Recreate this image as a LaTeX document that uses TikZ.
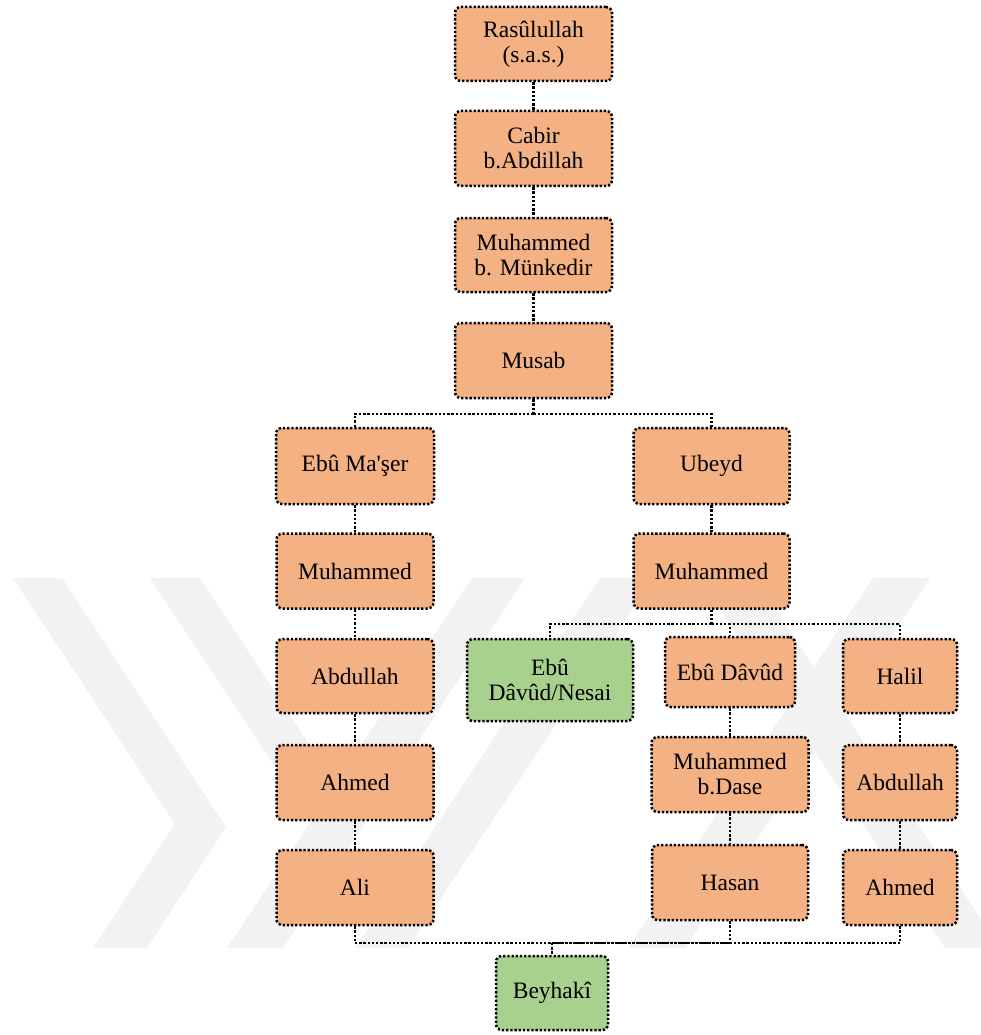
\documentclass[tikz,border=0pt]{standalone}
\usepackage{fontspec}
\setmainfont{Liberation Serif}[Ligatures=TeXOff]
\definecolor{boxor}{HTML}{F4B183}
\definecolor{boxgr}{HTML}{A9D18E}
\definecolor{wmark}{HTML}{F2F2F2}
\tikzset{
  dotline/.style={line width=2.5pt, dash pattern=on 2.3pt off 1.9pt},
  pbox/.style={draw=black, dotline, rounded corners=6pt, fill=boxor, inner sep=0pt,
    align=center, font=\fontsize{23.5}{25}\selectfont},
  gbox/.style={pbox, fill=boxgr},
  conn/.style={draw=black, dotline},
}
\begin{document}
\begin{tikzpicture}[x=1pt,y=-1pt]
\useasboundingbox (0,0) rectangle (981,1035);
% faint watermark
\begin{scope}
\clip (0,0) rectangle (981,1035);
\fill[wmark] (13,578) -- (62,578) -- (226,827) -- (147,948) -- (93,948) -- (175,824) -- cycle;
\fill[wmark] (150,578) -- (200,578) -- (363,826) -- (311,821) -- cycle;
\fill[wmark] (227,948) -- (283,948) -- (525,578) -- (472,578) -- cycle;
\fill[wmark] (355,948) -- (408,948) -- (653,578) -- (600,578) -- cycle;
\fill[wmark] (873,578) -- (930,578) -- (685,948) -- (628,948) -- cycle;
\fill[wmark] (700,578) -- (755,578) -- (1000,948) -- (945,948) -- cycle;
\end{scope}
% nodes
\node[pbox, minimum width=157pt, minimum height=74pt] (r1) at (533.5,44) {Rasûlullah\\(s.a.s.)};
\node[pbox, minimum width=157pt, minimum height=75pt] (r2) at (533.5,148.5) {Cabir\\b.Abdillah};
\node[pbox, minimum width=157pt, minimum height=74pt] (r3) at (533.5,255) {Muhammed\\b. Münkedir};
\node[pbox, minimum width=157pt, minimum height=75pt] (r4) at (533.5,360.5) {Musab};
\node[pbox, minimum width=158pt, minimum height=76pt] (e1) at (355,466) {Ebû Ma'şer};
\node[pbox, minimum width=156pt, minimum height=76pt] (u1) at (711.5,466) {Ubeyd};
\node[pbox, minimum width=157pt, minimum height=75pt] (m1) at (355,571) {Muhammed};
\node[pbox, minimum width=156pt, minimum height=75pt] (m2) at (711.5,571) {Muhammed};
\node[pbox, minimum width=157pt, minimum height=74pt] (a1) at (355,676) {Abdullah};
\node[gbox, minimum width=166pt, minimum height=82pt] (g1) at (550,680) {Ebû\\Dâvûd/Nesai};
\node[pbox, minimum width=130pt, minimum height=70pt] (d1) at (730,672) {Ebû Dâvûd};
\node[pbox, minimum width=114pt, minimum height=74pt] (h1) at (900,676) {Halil};
\node[pbox, minimum width=157pt, minimum height=75pt] (a2) at (355,782.5) {Ahmed};
\node[pbox, minimum width=157pt, minimum height=75pt] (mb) at (730,774.5) {Muhammed\\b.Dase};
\node[pbox, minimum width=114pt, minimum height=75pt] (a3) at (900,782.5) {Abdullah};
\node[pbox, minimum width=157pt, minimum height=75pt] (al) at (355,887.5) {Ali};
\node[pbox, minimum width=156pt, minimum height=75pt] (hs) at (730,882.5) {Hasan};
\node[pbox, minimum width=114pt, minimum height=75pt] (a4) at (900,887.5) {Ahmed};
\node[gbox, minimum width=112pt, minimum height=74pt] (b1) at (552,993) {Beyhakî};
% junction points
\coordinate (s1) at (533.5,414);
\coordinate (s2) at (711.5,624);
\coordinate (jb) at (552,943);
% connectors
\draw[conn] (r1.south) -- (r2.north);
\draw[conn] (r2.south) -- (r3.north);
\draw[conn] (r3.south) -- (r4.north);
\draw[conn] (r4.south) -- (s1);
\draw[conn] (s1) -| (e1.north);
\draw[conn] (s1) -| (u1.north);
\draw[conn] (e1.south) -- (m1.north);
\draw[conn] (m1.south) -- (a1.north);
\draw[conn] (a1.south) -- (a2.north);
\draw[conn] (a2.south) -- (al.north);
\draw[conn] (u1.south) -- (m2.north);
\draw[conn] (m2.south) -- (s2);
\draw[conn] (s2) -| (g1.north);
\draw[conn] (s2) -| (d1.north);
\draw[conn] (s2) -| (h1.north);
\draw[conn] (d1.south) -- (mb.north);
\draw[conn] (mb.south) -- (hs.north);
\draw[conn] (h1.south) -- (a3.north);
\draw[conn] (a3.south) -- (a4.north);
\draw[conn] (al.south) |- (jb);
\draw[conn] (hs.south) |- (jb);
\draw[conn] (a4.south) |- (jb);
\draw[conn] (jb) -- (b1.north);
\end{tikzpicture}
\end{document}
